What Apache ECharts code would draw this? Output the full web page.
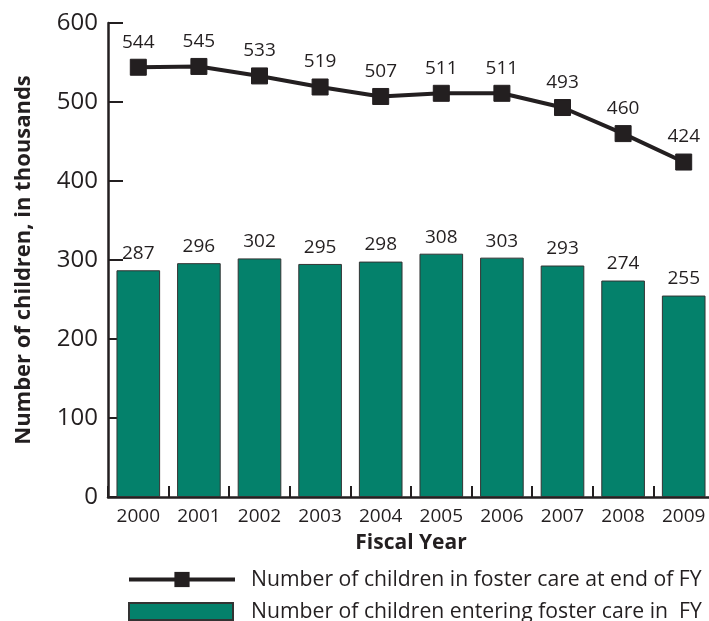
<!DOCTYPE html>
<html>
<head>
<meta charset="utf-8">
<script src="https://cdn.jsdelivr.net/npm/echarts@6/dist/echarts.min.js"></script>
<style>
html,body{margin:0;padding:0;background:#fff;}
#chart{width:709px;height:621px;}
</style>
</head>
<body>
<div id="chart"></div>
<script>
const years = ['2000','2001','2002','2003','2004','2005','2006','2007','2008','2009'];
const inCareEndFY = [544,545,533,519,507,511,511,493,460,424];
const enteringFY = [287,296,302,295,298,308,303,293,274,255];
const yTicks = [0,100,200,300,400,500,600];
const lineName = 'Number of children in foster care at end of FY';
const barName = 'Number of children entering foster care in  FY';

const FONT = '"Open Sans", "Noto Sans", sans-serif';
const INK = '#231f20';

const chart = echarts.init(document.getElementById('chart'), null, {renderer:'canvas'});
chart.setOption({
  animation: false,
  backgroundColor: '#fff',
  textStyle: {fontFamily: FONT, color: INK},
  grid: {left: 108, width: 606, top: 23, bottom: 124, containLabel: false, outerBoundsMode: 'none'},
  legend: [
    {
      orient: 'horizontal',
      left: 127,
      top: 569,
      padding: 0,
      itemWidth: 106,
      itemHeight: 19,
      textStyle: {fontFamily: FONT, fontSize: 21.2, color: INK, padding: [0,0,0,11]},
      lineStyle: {width: 4, color: INK},
      data: [lineName]
    },
    {
      orient: 'horizontal',
      left: 128,
      top: 601,
      padding: 0,
      itemWidth: 104,
      itemHeight: 17,
      textStyle: {fontFamily: FONT, fontSize: 21.2, color: INK, padding: [0,0,0,13]},
      data: [{name: barName, icon: 'rect'}]
    }
  ],
  xAxis: {
    type: 'category',
    data: years,
    boundaryGap: true,
    name: 'Fiscal Year',
    nameLocation: 'middle',
    nameGap: 36,
    nameTextStyle: {fontFamily: FONT, fontWeight: 'bold', fontSize: 21, color: INK},
    axisLine: {lineStyle: {color: INK, width: 2.5}},
    axisTick: {show: true, inside: true, length: 11, lineStyle: {color: INK, width: 2}},
    axisLabel: {fontFamily: FONT, fontSize: 19, color: INK, margin: 10}
  },
  yAxis: {
    type: 'value',
    min: yTicks[0],
    max: yTicks[yTicks.length-1],
    interval: 100,
    name: 'Number of children, in thousands',
    nameLocation: 'middle',
    nameGap: 73,
    nameRotate: 90,
    nameTextStyle: {fontFamily: FONT, fontWeight: 'bold', fontSize: 22, color: INK},
    splitLine: {show: false},
    axisLine: {show: true, lineStyle: {color: INK, width: 2.5}},
    axisTick: {show: true, inside: true, length: 15, lineStyle: {color: INK, width: 2}},
    axisLabel: {fontFamily: FONT, fontSize: 24, color: INK, margin: 10}
  },
  series: [
    {
      name: lineName,
      type: 'line',
      data: inCareEndFY,
      symbol: 'rect',
      symbolSize: 16,
      z: 5,
      lineStyle: {color: INK, width: 4},
      itemStyle: {color: INK, borderColor: INK},
      label: {show: true, position: 'top', distance: 7, fontFamily: FONT, fontSize: 19, color: INK}
    },
    {
      name: barName,
      type: 'bar',
      data: enteringFY,
      barWidth: '72%',
      itemStyle: {color: '#04816b', borderColor: '#333333', borderWidth: 1},
      label: {show: true, position: 'top', distance: 7, fontFamily: FONT, fontSize: 19, color: INK}
    }
  ]
});
</script>
</body>
</html>
